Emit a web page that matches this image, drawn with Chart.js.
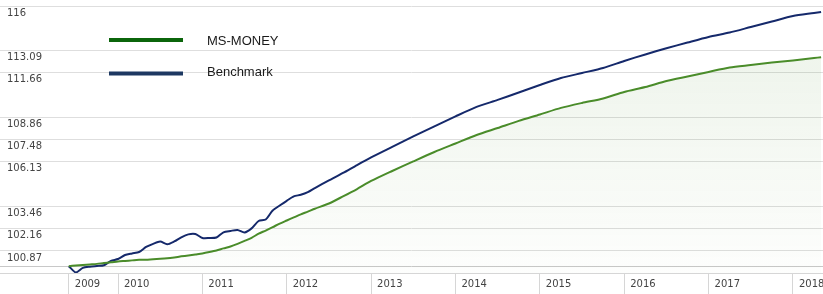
<!DOCTYPE html>
<html>
<head>
<meta charset="utf-8">
<script src="https://cdn.jsdelivr.net/npm/chart.js@4.4.0/dist/chart.umd.min.js"></script>
<style>
  html, body { margin: 0; padding: 0; background: #fff; }
  canvas { display: block; }
</style>
</head>
<body>
<canvas id="perfChart" width="823" height="294"></canvas>
<script>
// months counted from Jan 2009 (0 = Jan 2009)
const months = [5, 6, 7, 8, 9, 10, 11, 12, 13, 14, 15, 16, 17, 18, 19, 20, 21, 22, 23, 24,
  25, 26, 27, 28, 29, 30, 31, 32, 33, 34, 35, 36, 37, 38, 39, 40, 42, 44, 46, 48,
  51, 54, 57, 60, 63, 66, 69, 72, 75, 78, 81, 84, 87, 90, 93, 96, 99, 102, 105, 108, 111, 112];

const msMoney = [100.00, 100.04, 100.07, 100.10, 100.13, 100.18, 100.22, 100.27, 100.30, 100.33,
  100.36, 100.37, 100.40, 100.42, 100.45, 100.50, 100.56, 100.61, 100.67, 100.73,
  100.81, 100.90, 101.02, 101.13, 101.28, 101.45, 101.63, 101.87, 102.05, 102.25,
  102.46, 102.64, 102.82, 103.00, 103.16, 103.33, 103.64, 104.06, 104.50, 104.98,
  105.58, 106.16, 106.73, 107.25, 107.77, 108.20, 108.64, 109.04, 109.45, 109.76,
  110.04, 110.45, 110.76, 111.14, 111.43, 111.72, 112.00, 112.16, 112.32, 112.45, 112.61, 112.66];

const benchmark = [100.00, 99.64, 99.90, 99.97, 100.01, 100.05, 100.30, 100.41, 100.64, 100.73,
  100.81, 101.10, 101.28, 101.41, 101.26, 101.42, 101.66, 101.83, 101.85, 101.62,
  101.62, 101.65, 101.95, 102.03, 102.09, 101.94, 102.18, 102.61, 102.70, 103.23,
  103.52, 103.80, 104.06, 104.16, 104.32, 104.56, 105.01, 105.46, 105.94, 106.40,
  107.04, 107.68, 108.30, 108.92, 109.51, 109.95, 110.42, 110.89, 111.33, 111.65,
  111.97, 112.42, 112.84, 113.24, 113.61, 113.97, 114.26, 114.62, 114.98, 115.34, 115.54, 115.61];

const yearTicks = [5, 12, 24, 36, 48, 60, 72, 84, 96, 108];
const yearLabels = ['2009', '2010', '2011', '2012', '2013', '2014', '2015', '2016', '2017', '2018'];

const yTicks = [100, 100.87, 102.16, 103.46, 106.13, 107.48, 108.86, 111.66, 113.09, 116];
const yTickLabels = ['', '100.87', '102.16', '103.46', '106.13', '107.48', '108.86', '111.66', '113.09', '116'];

let ctx = document.getElementById('perfChart').getContext('2d');

// legend drawn inside the plot, top left
const legendLines = {
  id: 'legendLines',
  afterDraw(chart) {
    const c = chart.ctx;
    const rows = [
      { ds: 0, y: 40, ty: 41, color: '#0b650b' },
      { ds: 1, y: 73.5, ty: 72, color: '#1d3862' }
    ];
    c.save();
    rows.forEach(r => {
      c.strokeStyle = r.color;
      c.lineWidth = 4;
      c.beginPath();
      c.moveTo(109, r.y);
      c.lineTo(183, r.y);
      c.stroke();
      c.fillStyle = '#1a1a1a';
      c.font = '13px "Liberation Sans", Arial, sans-serif';
      c.textBaseline = 'middle';
      c.textAlign = 'left';
      c.fillText(chart.data.datasets[r.ds].label, 207, r.ty);
    });
    c.restore();
  }
};

let perfChart = new Chart(ctx, {
  type: 'line',
  data: {
    labels: months,
    datasets: [
      {
        label: 'MS-MONEY',
        data: msMoney,
        borderColor: '#4a8c2a',
        borderWidth: 2,
        pointRadius: 0,
        tension: 0.25,
        fill: 'start',
        backgroundColor: function(context) {
          const area = context.chart.chartArea;
          if (!area) return 'rgba(74,140,42,0.06)';
          const g = context.chart.ctx.createLinearGradient(0, area.top, 0, area.bottom);
          g.addColorStop(0, 'rgba(74,140,42,0.11)');
          g.addColorStop(1, 'rgba(74,140,42,0.01)');
          return g;
        }
      },
      {
        label: 'Benchmark',
        data: benchmark,
        borderColor: '#15296b',
        borderWidth: 2,
        pointRadius: 0,
        tension: 0.25,
        fill: false
      }
    ]
  },
  plugins: [legendLines],
  options: {
    responsive: false,
    maintainAspectRatio: false,
    animation: false,
    layout: { padding: 0 },
    plugins: {
      legend: { display: false },
      tooltip: { enabled: false }
    },
    scales: {
      x: {
        type: 'linear',
        min: -4.783,
        max: 112.27,
        afterBuildTicks: scale => { scale.ticks = yearTicks.map(v => ({ value: v })); },
        afterFit: scale => { scale.height = 21; scale.paddingLeft = 0; scale.paddingRight = 0; },
        grid: {
          drawOnChartArea: false,
          drawTicks: true,
          tickLength: 21,
          color: '#d6d6d6'
        },
        border: { display: true, color: '#d6d6d6' },
        ticks: {
          autoSkip: false,
          maxRotation: 0,
          align: 'start',
          labelOffset: 6,
          padding: -16,
          color: '#444',
          font: { family: '"DejaVu Sans", Verdana, sans-serif', size: 10 },
          callback: (value, index) => yearLabels[index]
        }
      },
      y: {
        type: 'logarithmic',
        position: 'left',
        min: 99.61,
        max: 116.4,
        afterBuildTicks: scale => { scale.ticks = yTicks.map(v => ({ value: v })); },
        afterFit: scale => { scale.width = 0; scale.paddingTop = 0; scale.paddingBottom = 0; },
        grid: {
          drawTicks: false,
          color: c => (c.tick && c.tick.value === 100) ? '#c8c8c8' : '#dedede'
        },
        border: { display: false },
        ticks: {
          mirror: true,
          autoSkip: false,
          padding: 7,
          labelOffset: 7,
          color: '#444',
          font: { family: '"DejaVu Sans", Verdana, sans-serif', size: 10 },
          callback: (value, index) => yTickLabels[index]
        }
      }
    }
  }
});
</script>
</body>
</html>
